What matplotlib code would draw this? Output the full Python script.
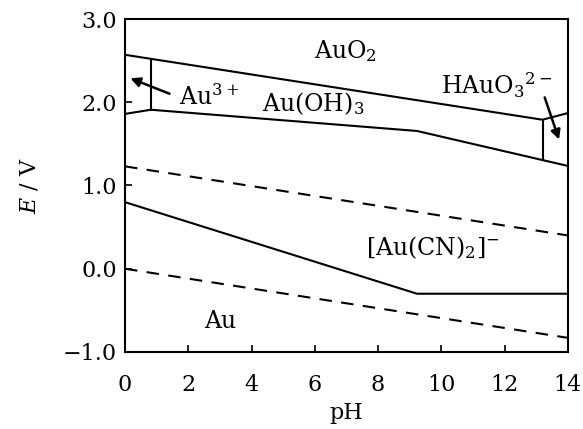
import numpy as np
import matplotlib
matplotlib.use("Agg")
import matplotlib.pyplot as plt

plt.rcParams['font.family'] = ['DejaVu Serif']
plt.rcParams['mathtext.fontset'] = 'dejavuserif'

# boundary lines (pH, E / V)
auo2_ph = [0, 13.2, 14]
auo2_e = [2.57, 1.79, 1.87]
lower_ph = [0, 0.82, 9.23, 14]
lower_e = [1.86, 1.91, 1.655, 1.235]
au3_ph = [0.82, 0.82]
au3_e = [2.51, 1.91]
hauo3_ph = [13.2, 13.2]
hauo3_e = [1.79, 1.31]
cn_ph = [0, 9.23, 14]
cn_e = [0.80, -0.30, -0.30]
o2_ph = [0, 14]
o2_e = [1.23, 0.40]
h2_ph = [0, 14]
h2_e = [0.0, -0.83]

fig = plt.figure(figsize=(5.83, 4.29), dpi=100)
ax = fig.add_axes([0.2144, 0.1795, 0.7596, 0.7762])

lw = 1.5
ax.plot(auo2_ph, auo2_e, color='black', lw=lw)
ax.plot(lower_ph, lower_e, color='black', lw=lw)
ax.plot(au3_ph, au3_e, color='black', lw=lw)
ax.plot(hauo3_ph, hauo3_e, color='black', lw=lw)
ax.plot(cn_ph, cn_e, color='black', lw=lw)
ax.plot(o2_ph, o2_e, color='black', lw=lw, ls=(0, (6, 4.5)))
ax.plot(h2_ph, h2_e, color='black', lw=lw, ls=(0, (6, 4.5)))

fs = 17
ax.text(6.98, 2.62, r'AuO$_2$', fontsize=fs, ha='center', va='center')
ax.text(5.95, 1.98, r'Au(OH)$_3$', fontsize=fs, ha='center', va='center')
ax.text(1.72, 2.06, r'Au$^{3+}$', fontsize=fs, ha='left', va='center')
ax.text(9.98, 2.2, r'HAuO$_3$$^{2-}$', fontsize=fs, ha='left', va='center')
ax.text(7.62, 0.26, r'[Au(CN)$_2$]$^{-}$', fontsize=fs, ha='left', va='center')
ax.text(3.0, -0.63, 'Au', fontsize=fs, ha='center', va='center')

ax.annotate('', xy=(0.09, 2.30), xytext=(1.49, 2.09),
            arrowprops=dict(arrowstyle='-|>', color='black', lw=1.8, mutation_scale=14))
ax.annotate('', xy=(13.75, 1.52), xytext=(13.24, 2.09),
            arrowprops=dict(arrowstyle='-|>', color='black', lw=1.8, mutation_scale=14))

ax.set_xlim(0, 14)
ax.set_ylim(-1.0, 3.0)
ax.set_xticks(np.arange(0, 15, 2))
ax.set_yticks([-1.0, 0.0, 1.0, 2.0, 3.0])
ax.set_yticklabels(['\u22121.0', '0.0', '1.0', '2.0', '3.0'])
ax.tick_params(direction='in', labelsize=16, length=5, width=1.2)
ax.tick_params(axis='x', pad=16)
ax.tick_params(axis='y', pad=6)
ax.set_xlabel('pH', fontsize=16, labelpad=4)
ax.set_ylabel(r'$E$ / V', fontsize=16, labelpad=16)
for s in ax.spines.values():
    s.set_linewidth(1.5)

fig.savefig('out.png', dpi=100)
